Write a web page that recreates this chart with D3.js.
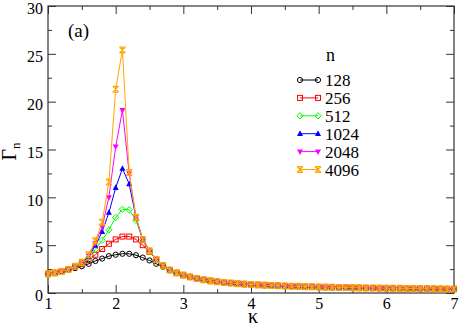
<!DOCTYPE html>
<html>
<head>
<meta charset="utf-8">
<script src="https://cdn.jsdelivr.net/npm/d3@7"></script>
<style>
  body { margin: 0; background: #fff; }
  svg text { font-family: "Liberation Serif", "Times New Roman", Times, "DejaVu Serif", serif !important; }
</style>
</head>
<body>
<svg id="chart" width="463" height="327"></svg>
<script>
// kappa grid
const kappa = [1.0,1.1,1.2,1.3,1.4,1.5,1.6,1.7,1.8,1.9,2.0,2.1,2.2,2.3,2.4,2.5,2.6,2.7,
  2.8,2.9,3.0,3.1,3.2,3.3,3.4,3.5,3.6,3.7,3.8,3.9,4.0,4.1,4.2,4.3,4.4,4.5,4.6,4.7,4.8,4.9,
  5.0,5.1,5.2,5.3,5.4,5.5,5.6,5.7,5.8,5.9,6.0,6.1,6.2,6.3,6.4,6.5,6.6,6.7,6.8,6.9,7.0];

// kappa 1.0 .. 2.7, one per n
const head128  = [2.0,2.1,2.25,2.4,2.6,2.8,3.05,3.35,3.6,3.85,4.0,4.1,4.1,3.95,3.7,3.4,3.05,2.75];
const head256  = [2.0,2.1,2.25,2.45,2.7,3.0,3.45,4.0,4.6,5.15,5.6,5.9,5.9,5.6,5.0,4.3,3.55,2.85];
const head512  = [2.0,2.1,2.25,2.45,2.75,3.1,3.7,4.55,5.5,6.6,7.9,8.75,8.7,7.6,5.6,4.4,3.55,2.85];
const head1024 = [2.0,2.1,2.25,2.45,2.75,3.15,3.8,4.95,6.4,8.4,11.0,13.0,11.4,7.9,5.6,4.4,3.5,2.85];
const head2048 = [2.0,2.1,2.25,2.45,2.75,3.2,3.9,5.2,6.9,10.0,15.3,19.1,12.5,7.9,5.6,4.4,3.5,2.85];
const head4096 = [2.0,2.1,2.25,2.45,2.8,3.2,4.0,5.45,7.4,11.6,21.3,25.4,12.6,7.9,5.6,4.4,3.5,2.85];

// kappa 2.8 .. 7.0, all curves collapse onto this
const tail = [2.4,2.1,1.87,1.68,1.52,1.38,1.27,1.18,1.1,1.04,0.98,0.93,0.89,0.85,0.82,0.79,0.76,
  0.73,0.71,0.69,0.67,0.65,0.63,0.61,0.6,0.58,0.57,0.56,0.54,0.53,0.52,0.51,0.5,0.49,0.48,
  0.47,0.46,0.45,0.45,0.44,0.43,0.42,0.42];

const sizes = ['128','256','512','1024','2048','4096'];
const colors = ['#000000','#ff0000','#00ff00','#0000ff','#ff00ff','#ffa500'];
const heads = [head128, head256, head512, head1024, head2048, head4096];

const xTicks = [1,2,3,4,5,6,7];
const yTicks = [0,5,10,15,20,25,30];

const serif = '"Liberation Serif", "Times New Roman", serif';
const svg = d3.select('#chart');
const margin = { top: 6, right: 9, bottom: 34, left: 48 };
const width = +svg.attr('width');
const height = +svg.attr('height');

const x = d3.scaleLinear().domain([1, 7]).range([margin.left, width - margin.right]);
const y = d3.scaleLinear().domain([0, 30]).range([height - margin.bottom, margin.top]);

const series = heads.map((h, i) => ({
    n: sizes[i],
    color: colors[i],
    values: h.concat(tail).map((v, j) => [kappa[j], v])
}));

// ticks (inward, mirrored on all four sides)
const xMinor = d3.range(1.5, 7, 1);
const yMinor = d3.range(2.5, 30, 5);
const axes = [
    { ax: d3.axisBottom(x).tickValues(xTicks).tickFormat(d3.format('d')), t: `translate(0,${y(0)})`, lab: true },
    { ax: d3.axisBottom(x).tickValues(xMinor).tickFormat(''), t: `translate(0,${y(0)})`, minor: true },
    { ax: d3.axisTop(x).tickValues(xTicks).tickFormat(''), t: `translate(0,${y(30)})` },
    { ax: d3.axisTop(x).tickValues(xMinor).tickFormat(''), t: `translate(0,${y(30)})`, minor: true },
    { ax: d3.axisLeft(y).tickValues(yTicks).tickFormat(d3.format('d')), t: `translate(${x(1)},0)`, lab: true, left: true },
    { ax: d3.axisLeft(y).tickValues(yMinor).tickFormat(''), t: `translate(${x(1)},0)`, minor: true },
    { ax: d3.axisRight(y).tickValues(yTicks).tickFormat(''), t: `translate(${x(7)},0)` },
    { ax: d3.axisRight(y).tickValues(yMinor).tickFormat(''), t: `translate(${x(7)},0)`, minor: true }
];
axes.forEach(a => {
    a.ax.tickSize(a.minor ? -4 : -8).tickPadding(a.lab ? 5 : 0);
    const g = svg.append('g').attr('transform', a.t).call(a.ax)
        .attr('font-family', serif);
    g.select('.domain').remove();
    g.selectAll('line').attr('stroke', '#333');
    g.selectAll('text').attr('font-size', 16).attr('fill', '#000')
        .style('font-family', serif);
    if (a.left) g.selectAll('text').attr('dy', '0.48em');
});

svg.append('rect')
    .attr('x', x(1)).attr('y', y(30))
    .attr('width', x(7) - x(1)).attr('height', y(0) - y(30))
    .attr('fill', 'none').attr('stroke', '#333').attr('stroke-width', 1.2);

// markers
function marker(sel, i, c) {
    if (i === 0) {
        sel.append('circle').attr('r', 2.6).attr('fill', 'none').attr('stroke', c).attr('stroke-width', 1);
    } else if (i === 1) {
        sel.append('rect').attr('x', -2.5).attr('y', -2.5).attr('width', 5).attr('height', 5)
            .attr('fill', 'none').attr('stroke', c).attr('stroke-width', 1);
    } else if (i === 2) {
        sel.append('path').attr('d', 'M0,-3.2L3.2,0L0,3.2L-3.2,0Z')
            .attr('fill', 'none').attr('stroke', c).attr('stroke-width', 1);
    } else if (i === 3) {
        sel.append('path').attr('d', 'M0,-3.4L3,2.2L-3,2.2Z').attr('fill', c);
    } else if (i === 4) {
        sel.append('path').attr('d', 'M0,3.4L3,-2.2L-3,-2.2Z').attr('fill', c);
    } else {
        sel.append('path').attr('d', 'M-3,-3L3,-3M-3,3L3,3M-3,-3L3,3M3,-3L-3,3M0,-3L0,3')
            .attr('fill', 'none').attr('stroke', c).attr('stroke-width', 1.1);
    }
}

const line = d3.line().x(d => x(d[0])).y(d => y(d[1]));

series.forEach((s, i) => {
    const g = svg.append('g');
    g.append('path').datum(s.values)
        .attr('d', line).attr('fill', 'none')
        .attr('stroke', s.color).attr('stroke-width', 1);
    g.selectAll('g.pt').data(s.values).enter().append('g')
        .attr('class', 'pt')
        .attr('transform', d => `translate(${x(d[0])},${y(d[1])})`)
        .each(function () { marker(d3.select(this), i, s.color); });
});

// legend
const legend = svg.append('g').style('font-family', serif);
legend.append('text').attr('x', 326).attr('y', 61).attr('font-size', 18).text('n');
series.forEach((s, i) => {
    const ly = 80 + i * 17.9;
    const g = legend.append('g');
    g.append('line').attr('x1', 300).attr('x2', 318).attr('y1', ly).attr('y2', ly)
        .attr('stroke', s.color).attr('stroke-width', 1);
    [300, 318].forEach(px => {
        const m = g.append('g').attr('transform', `translate(${px},${ly})`);
        marker(m, i, s.color);
    });
    g.append('text').attr('x', 325).attr('y', ly + 6).attr('font-size', 17)
        .style('font-family', serif).text(s.n);
});

// labels
svg.append('text').attr('x', 68).attr('y', 37).attr('font-size', 19)
    .style('font-family', serif).text('(a)');

svg.append('text').attr('x', 253).attr('y', 323).attr('text-anchor', 'middle')
    .attr('font-size', 20).style('font-family', serif).text('κ');

const yl = svg.append('text')
    .attr('transform', `translate(16,${y(15) + 2}) rotate(-90)`)
    .attr('text-anchor', 'middle').attr('font-size', 20).style('font-family', serif);
yl.append('tspan').text('Γ');
yl.append('tspan').attr('font-size', 13).attr('dy', 4).text('n');
</script>
</body>
</html>
